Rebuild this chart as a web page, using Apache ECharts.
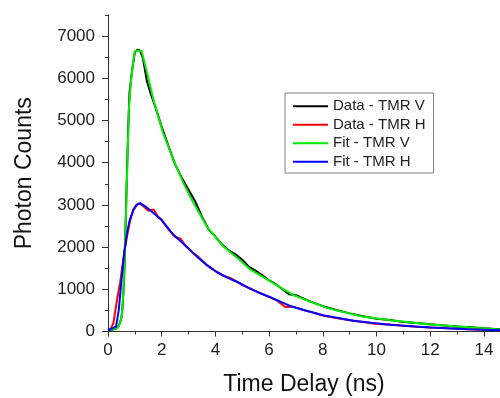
<!DOCTYPE html>
<html>
<head>
<meta charset="utf-8">
<script src="https://cdn.jsdelivr.net/npm/echarts@6/dist/echarts.min.js"></script>
<style>
html,body{margin:0;padding:0;background:#fff;}
#chart{width:500px;height:398px;}
</style>
</head>
<body>
<div id="chart"></div>
<script>
// ---- Data ----
const legendNames = ['Data - TMR V', 'Data - TMR H', 'Fit - TMR V', 'Fit - TMR H'];

const dataVTime   = [0, 0.15, 0.3, 0.4, 0.5, 0.55, 0.6, 0.65, 0.7, 0.75, 0.8, 0.9, 1.0, 1.1, 1.2, 1.3, 1.45, 1.6, 1.75, 2.0, 2.25, 2.5, 2.75, 3.0, 3.25, 3.5, 3.75, 4.0, 4.25, 4.5, 4.75, 5.0, 5.25, 5.5, 5.75, 6.0, 6.25, 6.5, 6.75, 7.0, 7.5, 8.0, 8.5, 9.0, 9.5, 10.0, 10.5, 11.0, 11.5, 12.0, 12.5, 13.0, 13.5, 14.0, 14.6];
const dataVCounts = [20, 40, 70, 130, 320, 650, 1250, 2400, 3600, 4750, 5650, 6200, 6620, 6680, 6650, 6480, 5930, 5620, 5350, 4850, 4400, 3960, 3640, 3360, 3080, 2720, 2420, 2250, 2060, 1920, 1830, 1700, 1530, 1440, 1330, 1210, 1120, 1000, 880, 860, 720, 600, 510, 430, 360, 300, 275, 225, 200, 170, 145, 120, 100, 78, 55];

const dataHTime   = [0, 0.1, 0.2, 0.26, 0.35, 0.45, 0.57, 0.65, 0.75, 0.85, 0.95, 1.05, 1.2, 1.35, 1.5, 1.7, 1.85, 2.0, 2.25, 2.5, 2.7, 2.9, 3.1, 3.4, 3.7, 4.0, 4.3, 4.55, 4.8, 5.0, 5.3, 5.6, 6.0, 6.3, 6.6, 6.9, 7.3, 7.7, 8.0, 8.5, 9.0, 9.5, 10.0, 10.5, 11.0, 11.5, 12.0, 12.5, 13.0, 13.5, 14.0, 14.6];
const dataHCounts = [40, 60, 200, 440, 800, 1150, 1700, 2050, 2400, 2700, 2900, 3000, 3030, 2950, 2860, 2890, 2730, 2640, 2420, 2240, 2200, 2020, 1900, 1750, 1560, 1430, 1320, 1270, 1180, 1100, 1020, 920, 820, 730, 580, 590, 500, 440, 380, 320, 265, 225, 180, 165, 135, 110, 95, 80, 65, 55, 40, 30];

const fitVTime   = [0, 0.2, 0.35, 0.45, 0.52, 0.58, 0.63, 0.68, 0.73, 0.78, 0.85, 0.92, 1.0, 1.25, 1.44, 1.69, 2.05, 2.43, 2.81, 3.12, 3.68, 4.3, 4.93, 5.3, 5.67, 5.98, 6.91, 8.16, 9.4, 10.52, 12.0, 13.4, 14.6];
const fitVCounts = [30, 50, 80, 200, 400, 1000, 2000, 3000, 4200, 5300, 5900, 6300, 6650, 6650, 6170, 5500, 4710, 4080, 3517, 3120, 2487, 2012, 1680, 1470, 1330, 1210, 860, 560, 360, 265, 165, 100, 50];

const fitHTime   = [0, 0.15, 0.3, 0.4, 0.5, 0.6, 0.7, 0.8, 0.95, 1.1, 1.2, 1.4, 1.7, 2.0, 2.44, 2.93, 3.3, 3.68, 4.05, 4.5, 4.93, 5.3, 5.98, 6.8, 8.0, 9.2, 10.5, 12.0, 13.4, 14.6];
const fitHCounts = [30, 70, 120, 500, 1200, 1850, 2300, 2620, 2880, 3020, 3040, 2960, 2800, 2640, 2290, 2010, 1780, 1578, 1410, 1260, 1143, 1010, 830, 600, 385, 250, 160, 95, 55, 30];

const xMajorTicks = [0, 2, 4, 6, 8, 10, 12, 14];
const yMajorTicks = [0, 1000, 2000, 3000, 4000, 5000, 6000, 7000];

// ---- Chart ----
const pairs = (xs, ys) => xs.map((x, i) => [x, ys[i]]);
const FONT = '"Liberation Sans", Arial, sans-serif';
const AXIS_COLOR = '#333';

const chart = echarts.init(document.getElementById('chart'), null, {renderer: 'canvas'});

const lineSeries = (name, data, color, w) => ({
  name: name,
  type: 'line',
  data: data,
  showSymbol: false,
  symbol: 'none',
  smooth: false,
  xAxisIndex: 0,
  yAxisIndex: 0,
  lineStyle: {color: color, width: w},
  itemStyle: {color: color},
  animation: false
});

chart.setOption({
  animation: false,
  backgroundColor: '#fff',
  grid: {left: 108, right: 0, top: 15, bottom: 66.5, containLabel: false, outerBoundsMode: 'none'},
  legend: {
    data: legendNames,
    orient: 'vertical',
    left: 285,
    top: 93,
    icon: 'rect',
    itemWidth: 35,
    itemHeight: 2,
    itemGap: 0,
    padding: [4, 8, 2, 8],
    borderColor: '#808080',
    borderWidth: 1,
    backgroundColor: '#fff',
    textStyle: {fontFamily: FONT, fontSize: 15, color: '#222', lineHeight: 18.5}
  },
  xAxis: [{
    type: 'value',
    min: 0, max: 14.6, interval: 2,
    position: 'bottom',
    name: 'Time Delay (ns)',
    nameLocation: 'middle',
    nameGap: 42,
    nameTextStyle: {fontFamily: FONT, fontSize: 23, color: '#111'},
    axisLine: {show: true, lineStyle: {color: AXIS_COLOR, width: 1}},
    axisTick: {show: true, inside: false, length: 5, customValues: xMajorTicks, lineStyle: {color: AXIS_COLOR}},
    axisLabel: {customValues: xMajorTicks, formatter: v => String(v), fontFamily: FONT, fontSize: 17, color: '#222', margin: 10},
    splitLine: {show: false}
  }, {
    type: 'value',
    min: 0, max: 14.6, interval: 1,
    position: 'bottom',
    offset: 0,
    axisLine: {show: false},
    axisTick: {show: true, inside: false, length: 3, lineStyle: {color: AXIS_COLOR}},
    axisLabel: {show: false},
    splitLine: {show: false}
  }],
  yAxis: [{
    type: 'value',
    min: 0, max: 7500, interval: 1000,
    position: 'left',
    name: 'Photon Counts',
    nameLocation: 'middle',
    nameGap: 72,
    nameTextStyle: {fontFamily: FONT, fontSize: 23, color: '#111'},
    axisLine: {show: true, lineStyle: {color: AXIS_COLOR, width: 1}},
    axisTick: {show: true, inside: false, length: 6, customValues: yMajorTicks, lineStyle: {color: AXIS_COLOR}},
    axisLabel: {customValues: yMajorTicks, formatter: v => String(v), fontFamily: FONT, fontSize: 17, color: '#222', margin: 13},
    splitLine: {show: false}
  }, {
    type: 'value',
    min: 0, max: 7500, interval: 500,
    position: 'left',
    offset: 0,
    axisLine: {show: false},
    axisTick: {show: true, inside: false, length: 3, lineStyle: {color: AXIS_COLOR}},
    axisLabel: {show: false},
    splitLine: {show: false}
  }],
  series: [
    lineSeries(legendNames[0], pairs(dataVTime, dataVCounts), '#000000', 2),
    lineSeries(legendNames[1], pairs(dataHTime, dataHCounts), '#ff0000', 2),
    lineSeries(legendNames[2], pairs(fitVTime, fitVCounts), '#00ee00', 2),
    lineSeries(legendNames[3], pairs(fitHTime, fitHCounts), '#0000ff', 2)
  ]
});
</script>
</body>
</html>
